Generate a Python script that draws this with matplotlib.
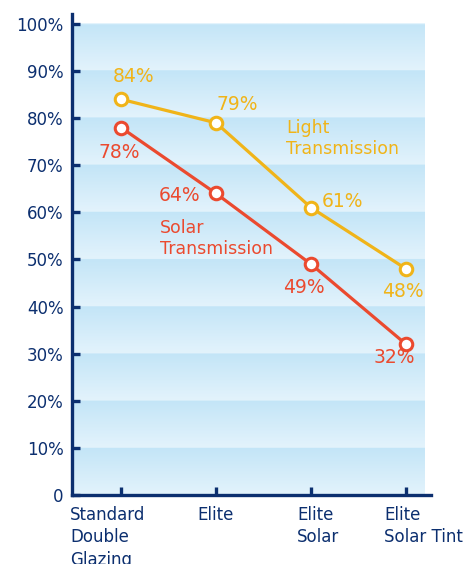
import numpy as np
import matplotlib.pyplot as plt
from matplotlib.colors import to_rgb
import matplotlib.transforms as mtransforms

# Data
categories = ['Standard\nDouble\nGlazing', 'Elite', 'Elite\nSolar', 'Elite\nSolar Tint']
light = [84, 79, 61, 48]
solar = [78, 64, 49, 32]
yticks = [0, 10, 20, 30, 40, 50, 60, 70, 80, 90, 100]
ytick_labels = ['0'] + [f'{v}%' for v in yticks[1:]]

navy = '#0c2f6f'
yellow = '#f0b419'
red = '#eb4a2f'

plt.rcParams['font.family'] = ['DejaVu Sans']

fig = plt.figure(figsize=(4.72, 5.64), dpi=100)
ax = fig.add_axes([72 / 472, 1 - 495 / 564, 359 / 472, 481 / 564])

x = np.arange(len(categories))
ax.set_xlim(-0.516, 3.263)
ax.set_ylim(0, 102.1)

# striped gradient background, one band per 10%
top_c = np.array(to_rgb('#c3e5f7'))
bot_c = np.array(to_rgb('#e3f3fc'))
n = 400
rows = np.linspace(100, 0, n)
frac = (rows % 10) / 10.0  # 0 at band bottom, 1 at band top
img = bot_c[None, :] * (1 - frac[:, None]) + top_c[None, :] * frac[:, None]
ax.imshow(img[:, None, :], extent=(-0.516, 3.19, 0, 100), aspect='auto',
          interpolation='bilinear', zorder=0)

# lines
ax.plot(x, light, color=yellow, lw=2.3, marker='o', ms=9, mfc='white',
        mec=yellow, mew=2.2, zorder=3, clip_on=False)
ax.plot(x, solar, color=red, lw=2.3, marker='o', ms=9, mfc='white',
        mec=red, mew=2.2, zorder=3, clip_on=False)

# value labels (pixel offsets from each point)
light_off = [(13, 23), (21, 18), (31, 6), (-3, -23)]
solar_off = [(-2, -25), (-36, -2), (-7, -23), (-12, -13)]
for xi, v, off in zip(x, light, light_off):
    ax.annotate(f'{v}%', (xi, v), xytext=off, textcoords='offset pixels',
                ha='center', va='center', color=yellow, fontsize=13.5)
for xi, v, off in zip(x, solar, solar_off):
    ax.annotate(f'{v}%', (xi, v), xytext=off, textcoords='offset pixels',
                ha='center', va='center', color=red, fontsize=13.5)

# series names
ax.text(1.737, 75.7, 'Light\nTransmission', color=yellow,
        fontsize=12.5, ha='left', va='center', linespacing=1.25)
ax.text(0.41, 54.4, 'Solar\nTransmission', color=red,
        fontsize=12.5, ha='left', va='center', linespacing=1.25)

# axes styling
for s in ['top', 'right']:
    ax.spines[s].set_visible(False)
for s in ['left', 'bottom']:
    ax.spines[s].set_color(navy)
    ax.spines[s].set_linewidth(2.4)
ax.set_yticks(yticks)
ax.set_yticklabels(ytick_labels)
ax.set_xticks(x)
ax.set_xticklabels(categories, ha='left', linespacing=1.3)
ax.tick_params(axis='both', direction='in', color=navy, width=2.4, length=6,
               labelcolor=navy, labelsize=12)
ax.tick_params(axis='y', pad=6)
ax.tick_params(axis='x', pad=8)

# shift category labels so their left edges match the reference
shifts = [-51, -19, -14, -22]
for lab, dx in zip(ax.get_xticklabels(), shifts):
    lab.set_transform(lab.get_transform() +
                      mtransforms.ScaledTranslation(dx / 100, 0, fig.dpi_scale_trans))

fig.savefig('out.png', dpi=100)
